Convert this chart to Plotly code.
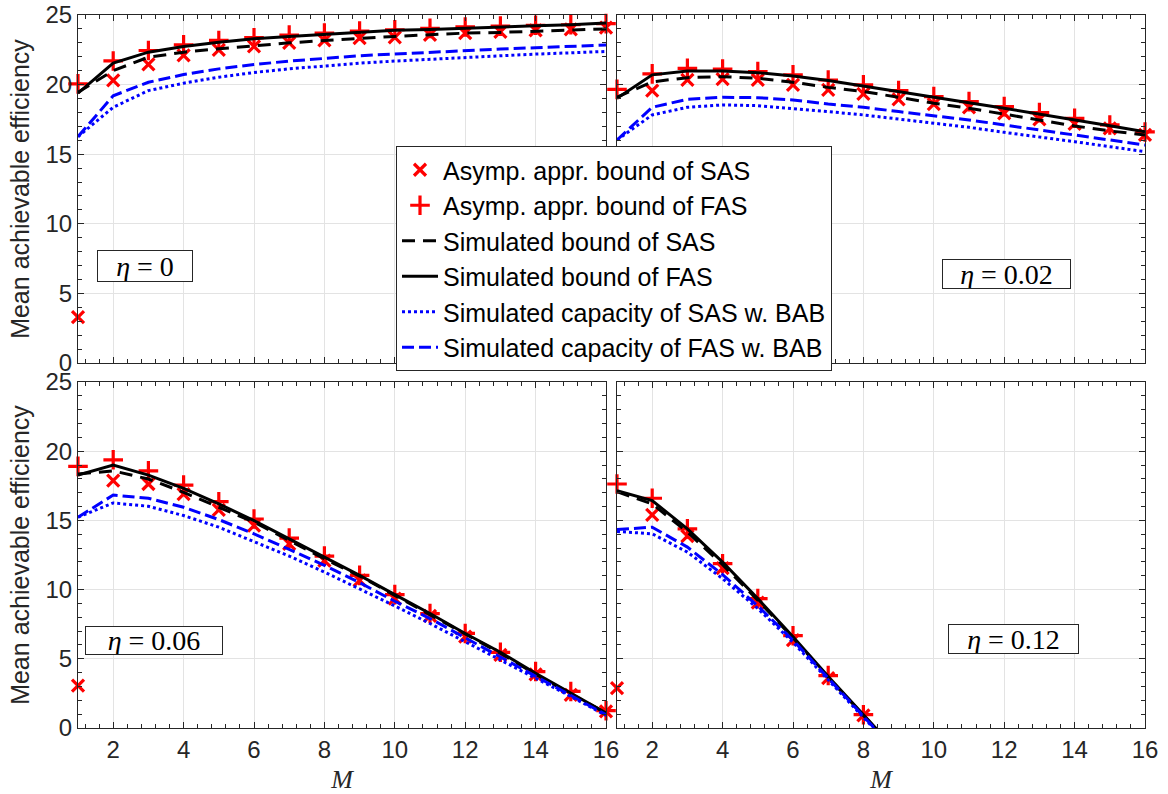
import plotly.graph_objects as go

# Number of antennas / ports
M = list(range(1, 17))
M_012_markers = list(range(1, 9))
M_012_lines = list(range(1, 10))   # last point is below zero and gets clipped by the axis

# ---------------- eta = 0 ----------------
sas_asym_0 = [3.3, 20.3, 21.45, 22.1, 22.5, 22.74, 23.0, 23.17, 23.34, 23.4, 23.58, 23.7, 23.78, 23.9, 23.97, 24.1]
fas_asym_0 = [20.05, 21.7, 22.45, 22.86, 23.17, 23.37, 23.56, 23.7, 23.85, 23.94, 24.04, 24.14, 24.2, 24.26, 24.3, 24.38]
sas_sim_0 = [19.45, 21.0, 21.97, 22.33, 22.57, 22.8, 23.0, 23.17, 23.34, 23.46, 23.58, 23.7, 23.75, 23.85, 23.94, 24.0]
fas_sim_0 = [19.38, 21.54, 22.33, 22.74, 23.05, 23.3, 23.46, 23.6, 23.78, 23.9, 23.96, 24.06, 24.14, 24.23, 24.3, 24.42]
sas_bab_0 = [16.26, 18.37, 19.57, 20.1, 20.53, 20.87, 21.13, 21.35, 21.54, 21.69, 21.83, 21.97, 22.07, 22.19, 22.29, 22.38]
fas_bab_0 = [16.26, 19.2, 20.17, 20.72, 21.13, 21.44, 21.69, 21.9, 22.07, 22.2, 22.33, 22.45, 22.55, 22.65, 22.74, 22.84]

# ---------------- eta = 0.02 ----------------
sas_asym_002 = [3.2, 19.57, 20.34, 20.4, 20.34, 19.98, 19.62, 19.33, 18.94, 18.6, 18.37, 17.94, 17.5, 17.17, 16.86, 16.38]
fas_asym_002 = [19.66, 20.77, 21.17, 21.12, 20.93, 20.7, 20.33, 19.98, 19.57, 19.14, 18.78, 18.42, 17.99, 17.58, 17.1, 16.6]
sas_sim_002 = [19.1, 20.2, 20.5, 20.57, 20.46, 20.17, 19.8, 19.5, 19.09, 18.66, 18.3, 17.87, 17.46, 17.03, 16.67, 16.38]
fas_sim_002 = [19.02, 20.7, 20.98, 20.98, 20.86, 20.62, 20.29, 19.9, 19.5, 19.14, 18.7, 18.3, 17.9, 17.46, 17.05, 16.62]
sas_bab_002 = [16.02, 17.82, 18.37, 18.54, 18.49, 18.3, 18.06, 17.82, 17.53, 17.22, 16.93, 16.57, 16.26, 15.9, 15.54, 15.18]
fas_bab_002 = [16.02, 18.37, 18.94, 19.09, 19.06, 18.9, 18.6, 18.37, 18.06, 17.77, 17.46, 17.1, 16.74, 16.38, 16.02, 15.66]

# ---------------- eta = 0.06 ----------------
sas_asym_006 = [3.07, 17.87, 17.63, 16.9, 15.76, 14.63, 13.3, 12.1, 10.67, 9.35, 8.1, 6.6, 5.28, 3.88, 2.4, 1.2]
fas_asym_006 = [18.9, 19.38, 18.58, 17.55, 16.35, 15.1, 13.72, 12.42, 11.03, 9.64, 8.27, 6.83, 5.47, 4.08, 2.64, 1.25]
sas_sim_006 = [18.35, 18.58, 17.99, 17.03, 15.95, 14.87, 13.55, 12.23, 10.98, 9.59, 8.2, 6.76, 5.4, 3.88, 2.45, 1.08]
fas_sim_006 = [18.27, 18.99, 18.27, 17.31, 16.19, 14.99, 13.67, 12.35, 11.03, 9.64, 8.27, 6.83, 5.47, 3.96, 2.52, 1.08]
sas_bab_006 = [15.23, 16.26, 16.02, 15.35, 14.51, 13.48, 12.42, 11.27, 10.07, 8.82, 7.55, 6.24, 4.92, 3.6, 2.28, 0.91]
fas_bab_006 = [15.23, 16.83, 16.6, 15.95, 15.06, 14.03, 12.9, 11.75, 10.5, 9.16, 7.91, 6.52, 5.16, 3.72, 2.35, 0.96]

# ---------------- eta = 0.12 ----------------
sas_asym_012 = [2.88, 15.4, 13.86, 11.56, 9.06, 6.35, 3.6, 0.91]
fas_asym_012 = [17.63, 16.6, 14.39, 11.87, 9.35, 6.67, 3.79, 0.96]
sas_sim_012 = [17.07, 16.19, 14.15, 11.8, 9.23, 6.52, 3.67, 0.91, -1.85]
fas_sim_012 = [17.15, 16.43, 14.39, 11.99, 9.35, 6.59, 3.72, 0.96, -1.8]
sas_bab_012 = [14.2, 14.03, 12.71, 10.79, 8.63, 6.19, 3.48, 0.77, -1.95]
fas_bab_012 = [14.34, 14.51, 13.07, 11.08, 8.82, 6.35, 3.6, 0.84, -1.9]

panel_labels = ["\u03b7 = 0", "\u03b7 = 0.02", "\u03b7 = 0.06", "\u03b7 = 0.12"]
series_names = [
    "Asymp. appr. bound of SAS",
    "Asymp. appr. bound of FAS",
    "Simulated bound of SAS",
    "Simulated bound of FAS",
    "Simulated capacity of SAS w. BAB",
    "Simulated capacity of FAS w. BAB",
]

panels = [
    dict(xm=M, xl=M, data=[sas_asym_0, fas_asym_0, sas_sim_0, fas_sim_0, sas_bab_0, fas_bab_0]),
    dict(xm=M, xl=M, data=[sas_asym_002, fas_asym_002, sas_sim_002, fas_sim_002, sas_bab_002, fas_bab_002]),
    dict(xm=M, xl=M, data=[sas_asym_006, fas_asym_006, sas_sim_006, fas_sim_006, sas_bab_006, fas_bab_006]),
    dict(xm=M_012_markers, xl=M_012_lines,
         data=[sas_asym_012, fas_asym_012, sas_sim_012, fas_sim_012, sas_bab_012, fas_bab_012]),
]

RED = "#ff0000"
BLUE = "#0000ff"
BLACK = "#000000"
AX = "#262626"

styles = [
    dict(mode="markers", marker=dict(symbol="x-thin", size=12, line=dict(width=3.2, color=RED), color=RED)),
    dict(mode="markers", marker=dict(symbol="cross-thin", size=14, line=dict(width=3.2, color=RED), color=RED)),
    dict(mode="lines", line=dict(color=BLACK, width=3, dash="13px,8px")),
    dict(mode="lines", line=dict(color=BLACK, width=3)),
    dict(mode="lines", line=dict(color=BLUE, width=3, dash="3px,3px")),
    dict(mode="lines", line=dict(color=BLUE, width=3, dash="12px,5px")),
]

fig = go.Figure()
for p_idx, p in enumerate(panels):
    suffix = "" if p_idx == 0 else str(p_idx + 1)
    for s_idx, (vals, st) in enumerate(zip(p["data"], styles)):
        is_marker = st["mode"] == "markers"
        xs = p["xm"] if is_marker else p["xl"]
        fig.add_trace(go.Scatter(
            x=xs, y=vals, name=series_names[s_idx],
            xaxis="x" + suffix, yaxis="y" + suffix,
            showlegend=(p_idx == 0),
            cliponaxis=not is_marker,
            **st,
        ))

# Plot-area geometry (pixels)
W, H = 1168, 794
ML, MR, MT, MB = 78, 23, 15, 66
pw, ph = W - ML - MR, H - MT - MB
x_left = [0, 528 / pw]
x_right = [539 / pw, 1]
y_top = [365 / ph, 1]
y_bot = [0, 346 / ph]

tickfont = dict(family="Liberation Sans, Arial, sans-serif", size=24, color=AX)


def xaxis(domain, anchor, labels, title=None):
    d = dict(
        domain=domain, anchor=anchor, range=[1, 16], automargin=False,
        tickmode="linear", tick0=0, dtick=2,
        ticks="inside", ticklen=6, tickwidth=1, tickcolor=AX,
        showline=True, linecolor=AX, linewidth=1, mirror="allticks",
        showgrid=True, gridcolor="#e3e3e3", gridwidth=1,
        zeroline=False, showticklabels=labels, tickfont=tickfont,
        minor=dict(dtick=0.4, tick0=0, ticks="inside", ticklen=4, tickcolor=AX, showgrid=False),
    )
    if title:
        d["title"] = dict(text=title, font=dict(family="Liberation Serif, serif", size=26, color=AX), standoff=20)
    return d


def yaxis(domain, anchor, labels, title=None):
    d = dict(
        domain=domain, anchor=anchor, range=[0, 25], automargin=False,
        tickmode="linear", tick0=0, dtick=5,
        ticks="inside", ticklen=6, tickwidth=1, tickcolor=AX,
        showline=True, linecolor=AX, linewidth=1, mirror="allticks",
        showgrid=True, gridcolor="#e3e3e3", gridwidth=1,
        zeroline=False, showticklabels=labels, tickfont=tickfont,
        minor=dict(dtick=1, tick0=0, ticks="inside", ticklen=4, tickcolor=AX, showgrid=False),
    )
    if title:
        d["title"] = dict(text=title, font=dict(family="Liberation Sans, Arial, sans-serif", size=25, color=AX), standoff=8)
    return d


ylab = "Mean achievable efficiency"
fig.update_layout(
    width=W, height=H,
    margin=dict(l=ML, r=MR, t=MT, b=MB),
    paper_bgcolor="white", plot_bgcolor="white",
    xaxis=xaxis(x_left, "y", False),
    yaxis=yaxis(y_top, "x", True, ylab),
    xaxis2=xaxis(x_right, "y2", False),
    yaxis2=yaxis(y_top, "x2", False),
    xaxis3=xaxis(x_left, "y3", True, "<i>M</i>"),
    yaxis3=yaxis(y_bot, "x3", True, ylab),
    xaxis4=xaxis(x_right, "y4", True, "<i>M</i>"),
    yaxis4=yaxis(y_bot, "x4", False),
    legend=dict(
        x=(396 - ML) / pw, y=(H - MB - 146) / ph, xanchor="left", yanchor="top",
        bgcolor="white", bordercolor=AX, borderwidth=1,
        font=dict(family="Liberation Sans, Arial, sans-serif", size=25, color="#000000"),
        itemwidth=36, tracegroupgap=0,
    ),
    showlegend=True,
)

# eta labels in boxed annotations
box_specs = [
    ("x", "y", 2.90, 6.95, 94, 30),
    ("x2", "y2", 12.07, 6.4, 127, 28),
    ("x3", "y3", 3.16, 6.3, 136, 27),
    ("x4", "y4", 12.26, 6.4, 129, 28),
]
for (xr, yr, xv, yv, bw, bh), lab in zip(box_specs, panel_labels):
    name, val = lab.split(" = ")
    fig.add_annotation(
        x=xv, y=yv, xref=xr, yref=yr, showarrow=False,
        text="<i>" + name + "</i> = " + val,
        font=dict(family="Liberation Serif, serif", size=28, color="#000000"),
        bgcolor="white", bordercolor=AX, borderwidth=1, borderpad=0,
        width=bw, height=bh, align="center", valign="middle",
    )

fig.write_html("out.html")
